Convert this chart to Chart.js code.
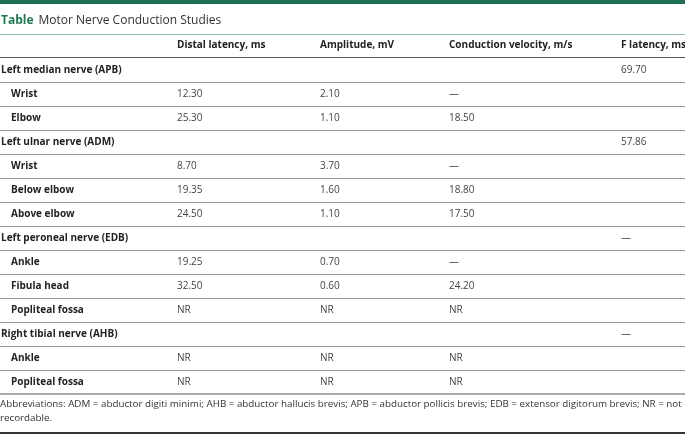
<!DOCTYPE html>
<html lang="en">
<head>
<meta charset="UTF-8">
<title>Motor Nerve Conduction Studies</title>
<script src="https://cdn.jsdelivr.net/npm/chart.js"></script>
<style>
    body { margin: 0; background: #fff; font-family: "Open Sans", sans-serif; color: #333; }
    #wrap { position: relative; width: 685px; height: 435px; overflow: hidden; }
    #table { position: absolute; left: 0; top: 0; }
    .topbar { position: absolute; left: 0; top: 0; width: 685px; height: 4px; background: #1e7150; }
    .title { position: absolute; left: 1px; top: 11px; font-size: 12px; white-space: nowrap; color: #333; }
    .title b { color: #1e7a50; font-weight: 700; margin-right: 5px; }
    .rule { position: absolute; left: 0; top: 34px; width: 685px; height: 1px; background: #8fbba3; }
    .note { position: absolute; left: 0; top: 397px; font-size: 9.8px; line-height: 14px; white-space: nowrap; color: #333; }
    .bottom { position: absolute; left: 0; top: 432px; width: 685px; height: 2px; background: #333; }
</style>
</head>
<body>
<div id="wrap">
    <canvas id="table" width="685" height="435"></canvas>
    <div class="topbar"></div>
    <div class="title"><b>Table</b>Motor Nerve Conduction Studies</div>
    <div class="rule"></div>
    <div class="note">Abbreviations: ADM = abductor digiti minimi; AHB = abductor hallucis brevis; APB = abductor pollicis brevis; EDB = extensor digitorum brevis; NR = not<br>recordable.</div>
    <div class="bottom"></div>
</div>
<script>
    const columns = ['Distal latency, ms', 'Amplitude, mV', 'Conduction velocity, m/s', 'F latency, ms'];
    const rowLabels = ['Left median nerve (APB)', 'Wrist', 'Elbow',
        'Left ulnar nerve (ADM)', 'Wrist', 'Below elbow', 'Above elbow',
        'Left peroneal nerve (EDB)', 'Ankle', 'Fibula head', 'Popliteal fossa',
        'Right tibial nerve (AHB)', 'Ankle', 'Popliteal fossa'];
    const isGroup = [true, false, false, true, false, false, false, true, false, false, false, true, false, false];
    const distalLatency = ['', '12.30', '25.30', '', '8.70', '19.35', '24.50', '', '19.25', '32.50', 'NR', '', 'NR', 'NR'];
    const amplitude = ['', '2.10', '1.10', '', '3.70', '1.60', '1.10', '', '0.70', '0.60', 'NR', '', 'NR', 'NR'];
    const conductionVelocity = ['', '—', '18.50', '', '—', '18.80', '17.50', '', '—', '24.20', 'NR', '', 'NR', 'NR'];
    const fLatency = ['69.70', '', '', '57.86', '', '', '', '—', '', '', '', '—', '', ''];

    // layout: left edge of each column in px
    const labelX = 1, indentX = 11;
    const colLeft = [177, 320, 449, 621];
    const cellFont = '10px "Open Sans"';
    const boldFont = 'bold 10px "Open Sans"';

    const valueCols = [distalLatency, amplitude, conductionVelocity, fLatency];

    function cells(values, x) {
        const out = [];
        values.forEach((v, i) => { if (v !== '') out.push({ x: x, y: i, text: v }); });
        return out;
    }

    const datasets = [{
        label: 'rows',
        data: rowLabels.map((t, i) => ({ x: isGroup[i] ? labelX : indentX, y: i, text: t })),
        bold: true
    }];
    valueCols.forEach((vals, c) => {
        datasets.push({ label: columns[c], data: cells(vals, colLeft[c]), bold: false });
    });

    const tableText = {
        id: 'tableText',
        beforeDatasetsDraw(chart) {
            const { ctx, chartArea, scales: { x, y } } = chart;
            ctx.save();
            // header row
            ctx.font = boldFont;
            ctx.fillStyle = '#222';
            ctx.textBaseline = 'middle';
            ctx.textAlign = 'left';
            const hy = y.getPixelForValue(-1) - 1;
            columns.forEach((c, i) => ctx.fillText(c, x.getPixelForValue(colLeft[i]), hy));
            // row separators
            ctx.fillStyle = '#555';
            ctx.fillRect(chartArea.left, chartArea.top - 1, chartArea.width, 1);
            for (let i = 0; i < rowLabels.length - 1; i++) {
                const py = Math.round(y.getPixelForValue(i + 0.5));
                ctx.fillStyle = '#999';
                ctx.fillRect(chartArea.left, py, chartArea.width, 1);
            }
            ctx.fillStyle = '#aaa';
            ctx.fillRect(chartArea.left, chartArea.bottom - 1, chartArea.width, 2);
            ctx.restore();
        },
        afterDatasetsDraw(chart) {
            const ctx = chart.ctx;
            ctx.save();
            ctx.textBaseline = 'middle';
            ctx.textAlign = 'left';
            chart.data.datasets.forEach((ds, d) => {
                const meta = chart.getDatasetMeta(d);
                ctx.font = ds.bold ? boldFont : cellFont;
                ctx.fillStyle = ds.bold ? '#222' : '#444';
                meta.data.forEach((el, i) => {
                    ctx.fillText(ds.data[i].text, el.x, el.y);
                });
            });
            ctx.restore();
        }
    };

    new Chart(document.getElementById('table'), {
        type: 'scatter',
        data: { datasets: datasets },
        options: {
            responsive: false,
            animation: false,
            devicePixelRatio: 1,
            layout: { padding: { top: 58, bottom: 41, left: 0, right: 0 } },
            elements: { point: { radius: 0, hoverRadius: 0 } },
            plugins: { legend: { display: false }, tooltip: { enabled: false } },
            scales: {
                x: { type: 'linear', min: 0, max: 685, display: false },
                y: { type: 'linear', min: -0.5, max: 13.5, reverse: true, display: false }
            }
        },
        plugins: [tableText]
    });
</script>
</body>
</html>
